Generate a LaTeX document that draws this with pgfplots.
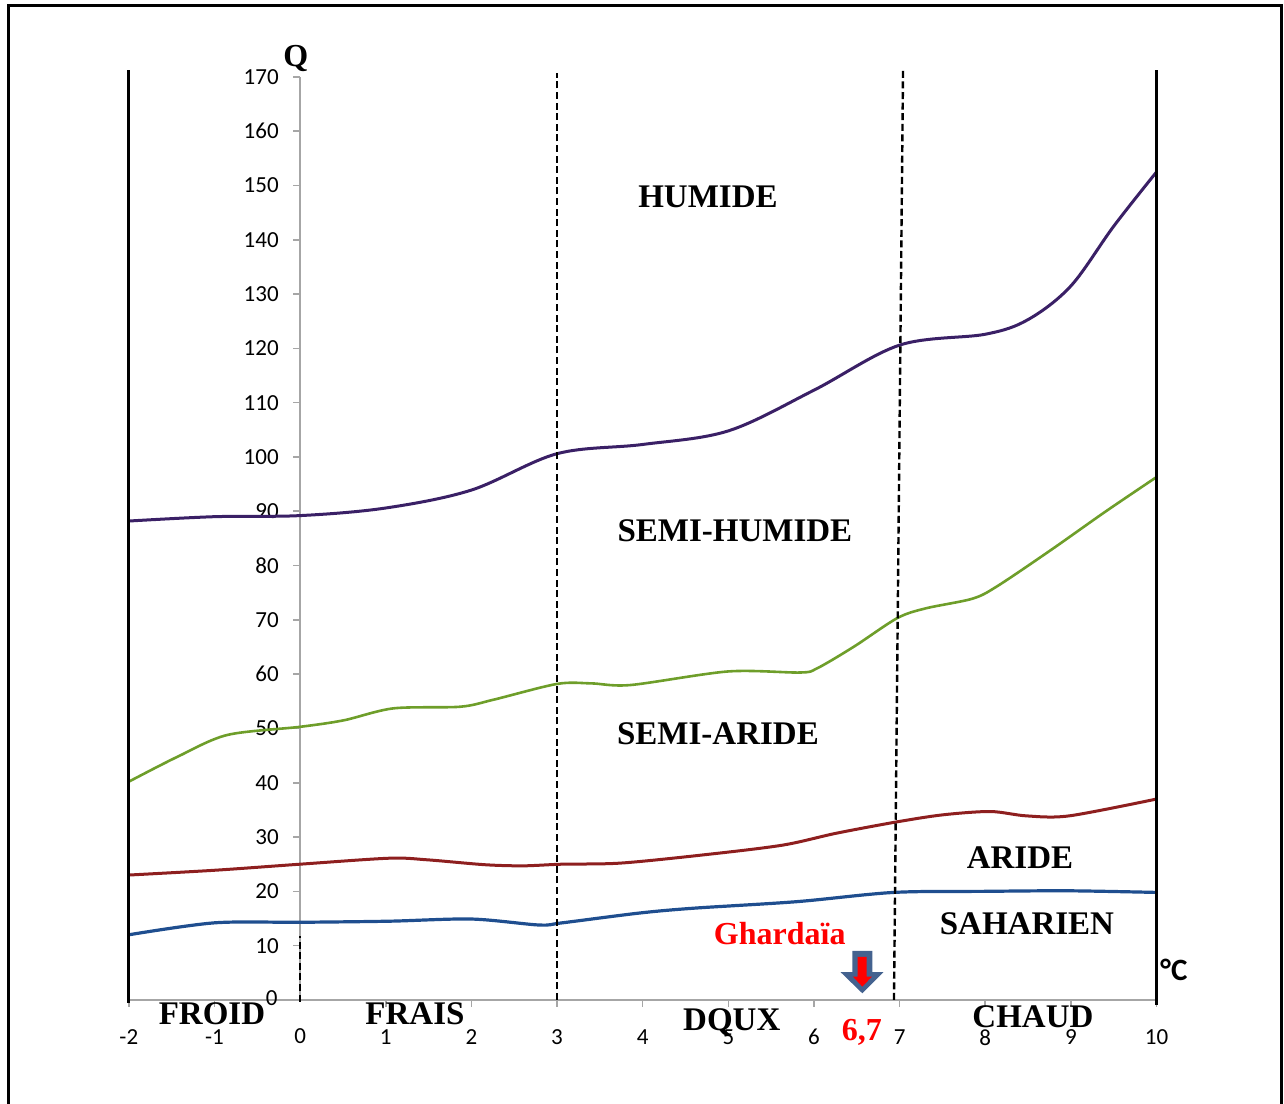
\documentclass[border=0pt]{standalone}
\usepackage{fontspec}
\setmainfont{Liberation Serif}
\newfontfamily\tickfont{Carlito}
\usepackage{pgfplots}
\pgfplotsset{compat=1.18}
\definecolor{cpurple}{HTML}{3A2066}
\definecolor{cgreen}{HTML}{6E9E2A}
\definecolor{cred}{HTML}{8E1F1F}
\definecolor{cblue}{HTML}{1F4E8F}
\definecolor{axgray}{HTML}{A6A6A6}
\definecolor{arrowblue}{HTML}{44628F}
\begin{document}
\begin{tikzpicture}
\begin{axis}[
  scale only axis, width=513.9pt, height=461.55pt,
  xmin=-2, xmax=10, ymin=0, ymax=170,
  axis lines=middle,
  axis line style={-, color=axgray, line width=1pt},
  clip=false,
  xtick={-2,-1,0,1,2,3,4,5,6,7,8,9,10},
  xticklabels={-2,-1,0,1,2,3,4,5,6,7,8,9,10},
  ytick={0,10,...,170},
  tick style={color=axgray, line width=0.8pt},
  tick align=outside, major tick length=3.5pt,
  tick label style={font=\tickfont\fontsize{11.5}{12}\selectfont, text=black},
  /pgf/number format/assume math mode=true,
  xticklabel style={anchor=north, inner sep=0pt, yshift=-11pt},
  yticklabel style={anchor=east, inner sep=0pt, xshift=-7pt},
]
% curves
\addplot[cpurple, line width=1.5pt, smooth, tension=0.55] coordinates {
(-2,88.2) (-1,89.0) (0,89.2) (1,90.6) (2,93.9) (3,100.6) (4,102.3) (5,104.8) (6,112.3) (7,120.6) (8,122.6) (8.5,125.3) (9,131.5) (9.5,142.5) (10,152.5)};
\addplot[cgreen, line width=1.3pt, smooth, tension=0.5] coordinates {
(-2,40.2) (-1.43,44.8) (-0.85,48.8) (0,50.3) (0.51,51.5) (1.09,53.7) (1.87,54.0) (2.26,55.3) (3.0,58.2) (3.4,58.3) (3.86,58.0) (5.0,60.5) (5.84,60.3) (6.04,61.1) (6.47,65.1) (6.97,70.3) (7.3,72.1) (7.85,73.9) (8.14,76.2) (8.77,82.9) (9.4,89.9) (10,96.3)};
\addplot[cred, line width=1.5pt, smooth, tension=0.5] coordinates {
(-2,23.0) (-0.98,23.9) (0,25.0) (1.04,26.1) (1.49,25.8) (2.16,24.9) (2.61,24.7) (3.06,25.0) (3.74,25.2) (4.7,26.7) (5.63,28.5) (6.26,30.7) (6.97,32.8) (7.51,34.1) (8.06,34.7) (8.48,33.9) (8.98,33.9) (10,37.0)};
\addplot[cblue, line width=1.6pt, smooth, tension=0.5] coordinates {
(-2,12.0) (-1,14.2) (0,14.3) (1.04,14.5) (2.0,14.9) (2.79,13.8) (3.06,14.2) (3.96,16.0) (4.6,16.9) (5.8,18.1) (6.93,19.8) (8,20.0) (8.97,20.1) (10,19.8)};
% vertical lines
\draw[black, line width=1.5pt] (axis cs:-2,-0.5) -- (axis cs:-2,171.3);
\draw[black, line width=1.5pt] (axis cs:10,-0.9) -- (axis cs:10,171.3);
\draw[black, line width=1.2pt, dash pattern=on 3.5pt off 1.8pt] (axis cs:3,0) -- (axis cs:3,170.7);
\draw[black, line width=1.2pt, dash pattern=on 3.5pt off 1.8pt] (axis cs:6.934,0) -- (axis cs:7.04,171.3);
\draw[black, line width=1.2pt, dash pattern=on 3.5pt off 1.8pt] (axis cs:0,-0.3) -- (axis cs:0,11.8);
% origin tick labels
\node[inner sep=0pt, font=\tickfont\fontsize{11.5}{12}\selectfont, text=black] at (axis cs:0,-6.63) {0};
\node[anchor=east, inner sep=0pt, font=\tickfont\fontsize{11.5}{12}\selectfont, text=black] at (axis cs:-0.258,0.4) {0};
% frame
\draw[black, line width=1.5pt] (axis cs:-3.410,-21.2) rectangle (axis cs:11.453,183.06);
\coordinate (BL) at (axis cs:-3.504,-19.15);
\coordinate (TR) at (axis cs:11.488,184.16);
% labels
\begin{scope}[every node/.style={font=\bfseries\fontsize{16.5}{18}\selectfont, inner sep=0pt}]
\node at (axis cs:4.762,147.9) {HUMIDE};
\node at (axis cs:5.077,86.4) {SEMI-HUMIDE};
\node at (axis cs:4.879,49.0) {SEMI-ARIDE};
\node at (axis cs:8.405,26.15) {ARIDE};
\node at (axis cs:8.487,14.0) {SAHARIEN};
\node at (axis cs:-1.029,-2.58) {FROID};
\node at (axis cs:1.341,-2.58) {FRAIS};
\node at (axis cs:5.04,-4.05) {DQUX};
\node at (axis cs:8.557,-3.13) {CHAUD};
\end{scope}
\node[text=red, inner sep=0pt, font=\bfseries\fontsize{16}{18}\selectfont] at (axis cs:5.60,12.15) {Ghardaïa};
\node[text=red, inner sep=0pt, font=\bfseries\fontsize{16}{18}\selectfont] at (axis cs:6.56,-6.0) {6,7};
\fill[arrowblue] (axis cs:6.447,9.02) -- (axis cs:6.681,9.02) -- (axis cs:6.681,5.1) -- (axis cs:6.809,5.1) -- (axis cs:6.564,1.23) -- (axis cs:6.312,5.1) -- (axis cs:6.447,5.1) -- cycle;
\fill[red] (axis cs:6.510,7.92) -- (axis cs:6.615,7.92) -- (axis cs:6.615,4.29) -- (axis cs:6.677,4.29) -- (axis cs:6.564,2.45) -- (axis cs:6.455,4.29) -- (axis cs:6.510,4.29) -- cycle;
\node[inner sep=0pt, font=\bfseries\fontsize{16}{18}\selectfont] at (axis cs:-0.05,173.3) {Q};
\node[anchor=west, inner sep=0pt, font=\tickfont\bfseries\fontsize{15.5}{17}\selectfont] at (axis cs:10.04,5.52) {°C};
\end{axis}
\pgfresetboundingbox
\path[use as bounding box] (BL) rectangle (TR);
\end{tikzpicture}
\end{document}
